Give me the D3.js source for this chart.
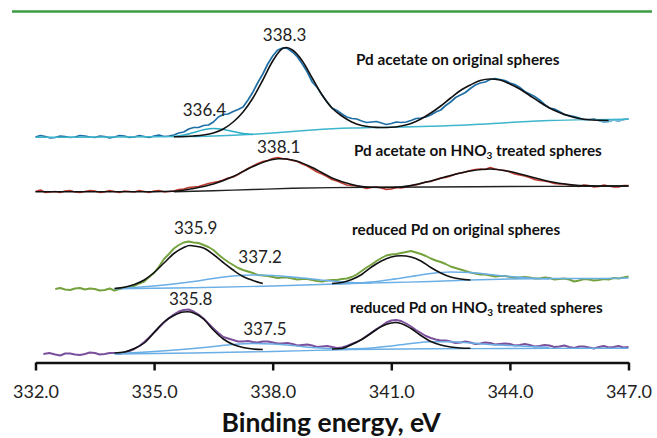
<!DOCTYPE html>
<html>
<head>
<meta charset="utf-8">
<script src="https://cdn.jsdelivr.net/npm/d3@7"></script>
<style>
  body { margin: 0; background: #fff; }
  text { font-family: Lato, "Open Sans", sans-serif; }
</style>
</head>
<body>
<script>
// chart size
const width = 657;
const height = 438;

// binding energy ticks (eV)
const energyTicks = [332, 335, 338, 341, 344, 347];

// series titles, top to bottom ("|" marks the subscript)
const seriesTitles = [
  "Pd acetate on original spheres",
  "Pd acetate on HNO|3| treated spheres",
  "reduced Pd on original spheres",
  "reduced Pd on HNO|3| treated spheres"
];

// [eV, intensity a.u.] -- spectra are stacked, values include offset
// 1: Pd acetate on original spheres
const raw1 = [[332,225],[332.125,226.5],[332.25,225.5],[332.375,224],[332.5,224.5],[332.625,226],[332.75,225.5],[332.875,224.5],[333,225],[333.125,226.5],[333.25,226],[333.375,225],[333.5,224.5],[333.625,226],[333.75,225.5],[333.875,224],[334,225],[334.125,226.5],[334.25,226],[334.375,224.5],[334.5,225],[334.625,226.5],[334.75,225.5],[334.875,224.5],[335,226],[335.125,227],[335.25,225.5],[335.375,226],[335.5,227],[335.625,229],[335.75,230],[335.875,233],[336,234.5],[336.125,234.5],[336.25,236.5],[336.375,237],[336.5,240],[336.625,245],[336.75,247.5],[336.875,248],[337,250.5],[337.125,252.5],[337.25,255],[337.375,262],[337.5,270],[337.625,279.5],[337.75,288],[337.875,298],[338,306],[338.125,312],[338.25,314],[338.375,313.5],[338.5,310],[338.625,305],[338.75,298],[338.875,290],[339,280],[339.125,274.5],[339.25,267],[339.375,260],[339.5,254],[339.625,251.5],[339.75,248],[339.875,245],[340,243.5],[340.125,243],[340.25,241],[340.375,239.5],[340.5,240],[340.625,240.5],[340.75,239],[340.875,237.5],[341,238.5],[341.125,240],[341.25,239.5],[341.375,240],[341.5,241.5],[341.625,243.5],[341.75,244],[341.875,245],[342,247],[342.125,250],[342.25,252],[342.375,256.5],[342.5,260],[342.625,264.5],[342.75,267],[342.875,269.5],[343,273.5],[343.125,277],[343.25,279],[343.375,280],[343.5,282.5],[343.625,283.5],[343.75,282.5],[343.875,281.5],[344,279],[344.125,277.5],[344.25,274.5],[344.375,270.5],[344.5,268],[344.625,265.5],[344.75,262],[344.875,257.5],[345,254],[345.125,253],[345.25,250.5],[345.375,247.5],[345.5,246.5],[345.625,245.5],[345.75,244],[345.875,242.5],[346,242.5],[346.125,243],[346.25,241.5],[346.375,240],[346.5,240.5],[346.625,242],[346.75,241],[346.875,242.5],[347,243]];
const fit1 = [[335.5,225.2],[336,226],[336.25,227],[336.5,229],[336.75,233],[337,240],[337.25,250],[337.5,264],[337.75,282],[338,301],[338.25,313.5],[338.35,314.5],[338.5,312],[338.75,301],[339,284],[339.25,267],[339.5,254],[339.75,246],[340,240],[340.25,236.5],[340.5,235],[340.75,234.5],[341,234.7],[341.25,236],[341.5,238.5],[341.75,243],[342,249],[342.25,256],[342.5,264],[342.75,271.5],[343,277],[343.25,281.5],[343.5,283],[343.75,282],[344,278],[344.25,273],[344.5,266.5],[344.75,260],[345,254],[345.25,249.5],[345.5,246],[345.75,243.5],[346,242.2],[346.25,241.7],[346.5,241.5]];
const shoulder1 = [[335.5,225.5],[335.75,227],[336,229.5],[336.25,232.2],[336.5,233.5],[336.75,232.5],[337,230.5],[337.25,228.5],[337.5,227.5]];
const bg1 = [[332,224.7],[333,224.8],[334,225],[335,225.2],[336,225.5],[336.5,226],[337,226.7],[337.5,227.7],[338,229],[338.5,230.5],[339,232],[339.5,233.2],[340,234],[340.5,234.4],[341,234.8],[342,235.7],[343,237.2],[344,239.5],[345,241.5],[346,242.4],[347,242.7]];

// 2: Pd acetate on HNO3 treated spheres
const raw2 = [[332,170.5],[332.125,172],[332.25,169.5],[332.375,170],[332.5,170.5],[332.625,169.5],[332.75,171],[332.875,171.5],[333,170],[333.125,169.5],[333.25,170.5],[333.375,171.5],[333.5,171],[333.625,169.5],[333.75,170.2],[333.875,171.5],[334,170.5],[334.125,169.5],[334.25,171],[334.375,170.5],[334.5,170],[334.625,171.5],[334.75,170.5],[334.875,169.5],[335,171],[335.125,171.5],[335.25,170.2],[335.375,170.5],[335.5,171],[335.625,172.5],[335.75,173],[335.875,174.5],[336,175],[336.125,175.5],[336.25,177],[336.375,178.5],[336.5,179.5],[336.625,180.5],[336.75,182],[336.875,184],[337,185],[337.125,187.5],[337.25,190.5],[337.375,193.5],[337.5,196],[337.625,198.5],[337.75,200.5],[337.875,201.5],[338,203.5],[338.125,204.5],[338.25,203.5],[338.375,203],[338.5,201.5],[338.625,200.5],[338.75,198],[338.875,196],[339,193],[339.125,190],[339.25,188],[339.375,185.5],[339.5,182.5],[339.625,181],[339.75,179],[339.875,177],[340,176.5],[340.125,176],[340.25,175],[340.375,173.5],[340.5,174.5],[340.625,175],[340.75,174],[340.875,172.5],[341,173],[341.125,174.5],[341.25,174],[341.375,175],[341.5,176.5],[341.625,177],[341.75,178.5],[341.875,180],[342,180.5],[342.125,182.5],[342.25,184],[342.375,184.5],[342.5,186],[342.625,188],[342.75,189],[342.875,190],[343,191.5],[343.125,192.5],[343.25,193],[343.375,192.5],[343.5,194.5],[343.625,193],[343.75,192],[343.875,191.5],[344,190],[344.125,188],[344.25,187],[344.375,186],[344.5,184.5],[344.625,182.5],[344.75,181.5],[344.875,181],[345,180],[345.125,178.5],[345.25,178],[345.375,178],[345.5,177],[345.625,176],[345.75,175.5],[345.875,177],[346,176.5],[346.125,175],[346.25,175.5],[346.375,177],[346.5,176],[346.625,175],[346.75,175],[346.875,176.5],[347,176.5]];
const fit2 = [[332,170.3],[335,170.3],[335.5,170.7],[336,173.5],[336.5,178],[337,185.5],[337.5,195.5],[338,202.5],[338.15,203.2],[338.5,202],[339,194.5],[339.5,184],[340,177.5],[340.5,174.7],[341,174.5],[341.5,176.5],[342,181],[342.5,186.5],[343,191],[343.5,193],[344,190.5],[344.5,185.5],[345,180.5],[345.5,177.5],[346,176.2],[346.5,176],[347,176]];
const bg2 = [[335.5,170.3],[336.5,171.3],[337.5,172.5],[338.5,173.7],[339.5,174.4],[340.5,174.7],[342,175],[344,175.5],[346,175.8],[347,176]];

// 3: reduced Pd on original spheres
const raw3 = [[332.5,73],[332.625,74],[332.75,72.5],[332.875,72],[333,73.5],[333.125,74],[333.25,72.5],[333.375,73.5],[333.5,73],[333.625,71.5],[333.75,72],[333.875,73.5],[334,71.5],[334.125,73],[334.25,74.5],[334.375,74.5],[334.5,76],[334.625,78.5],[334.75,80.5],[334.875,85],[335,89],[335.125,95.5],[335.25,103],[335.375,108],[335.5,113.5],[335.625,117],[335.75,119.5],[335.875,120.5],[336,119.5],[336.125,119],[336.25,117],[336.375,115],[336.5,112],[336.625,107.5],[336.75,103.5],[336.875,100],[337,97],[337.125,94],[337.25,92],[337.375,90.5],[337.5,89],[337.625,87],[337.75,86.5],[337.875,86],[338,85],[338.125,84],[338.25,84.5],[338.375,84.5],[338.5,83.5],[338.625,82.5],[338.75,83],[338.875,83],[339,82],[339.125,81],[339.25,80.5],[339.375,81.5],[339.5,82],[339.625,82],[339.75,83],[339.875,83.5],[340,85],[340.125,87.5],[340.25,91],[340.375,94.5],[340.5,97.5],[340.625,101],[340.75,104],[340.875,106.5],[341,107.5],[341.125,108],[341.25,109],[341.375,110],[341.5,111],[341.625,109.5],[341.75,108],[341.875,106],[342,103.5],[342.125,101.5],[342.25,100],[342.375,98],[342.5,95.5],[342.625,94],[342.75,92.5],[342.875,91],[343,89.5],[343.125,88.5],[343.25,87.5],[343.375,87.5],[343.5,86.5],[343.625,85.5],[343.75,86],[343.875,86],[344,85],[344.125,84],[344.25,84.5],[344.375,85],[344.5,84.5],[344.625,83.5],[344.75,83.5],[344.875,84.5],[345,84],[345.125,82.5],[345.25,83],[345.375,83.5],[345.5,82.5],[345.625,80.5],[345.75,81.5],[345.875,83],[346,82.5],[346.125,81.5],[346.25,82],[346.375,83],[346.5,82.5],[346.625,84],[346.75,83.5],[346.875,84.5],[347,85.5]];
const peak3a = [[334,73.5],[334.25,74.7],[334.5,77.5],[334.75,82],[335,89.5],[335.25,99],[335.5,108.5],[335.75,114.5],[335.9,116.5],[336,116],[336.25,114],[336.5,107.5],[336.75,99.5],[337,92],[337.25,85.5],[337.5,81.5],[337.75,78.5]];
const comp3a = [[334,73.5],[334.5,74.5],[335,76],[335.5,78],[336,80.5],[336.5,83.5],[337,86],[337.5,87],[338,86.5],[338.5,85],[339,83],[339.5,81],[340,79.5],[340.5,79]];
const peak3b = [[339.5,78.5],[339.75,79.5],[340,82.5],[340.25,87.5],[340.5,95],[340.75,101],[341,105],[341.25,106.2],[341.5,105],[341.75,101],[342,94.5],[342.25,89],[342.5,85],[342.75,83],[343,82]];
const comp3b = [[339.5,78.2],[340,78.7],[340.5,80],[341,82.5],[341.5,85.5],[342,88.5],[342.5,90],[343,89.5],[343.5,87.5],[344,85.5],[344.5,84],[345,83]];
const bg3 = [[334,73.3],[336,74.2],[338,76],[340,78.5],[341,79.5],[342,80.5],[343,82],[344,83],[345,83.5],[346,83.5],[347,84]];

// 4: reduced Pd on HNO3 treated spheres
const raw4 = [[332.2,8],[332.35,9],[332.5,7.5],[332.625,6.5],[332.75,8.5],[332.875,8.5],[333,7.5],[333.125,7],[333.25,8],[333.375,9.5],[333.5,9],[333.625,7.5],[333.75,8],[333.875,9],[334,9],[334.125,8],[334.25,9.5],[334.375,11],[334.5,13],[334.625,16],[334.75,20],[334.875,24.5],[335,29.5],[335.125,34.5],[335.25,39.5],[335.375,44],[335.5,47.5],[335.625,50.5],[335.75,52],[335.875,52.5],[336,50.5],[336.125,47.5],[336.25,43.5],[336.375,38.5],[336.5,33.5],[336.625,29],[336.75,25],[336.875,23.5],[337,22],[337.125,20.5],[337.25,20.5],[337.375,21],[337.5,20],[337.625,19.5],[337.75,20.5],[337.875,20.5],[338,19.5],[338.125,18.5],[338.25,18.5],[338.375,19],[338.5,18],[338.625,16.5],[338.75,17],[338.875,17.5],[339,16.5],[339.125,15],[339.25,15.5],[339.375,16],[339.5,15],[339.625,14],[339.75,14.5],[339.875,16],[340,18],[340.125,20],[340.25,22.5],[340.375,26],[340.5,29.5],[340.625,33],[340.75,36],[340.875,39.5],[341,41.5],[341.125,42],[341.25,41],[341.375,38.5],[341.5,35.5],[341.625,32],[341.75,29],[341.875,26],[342,24],[342.125,22.5],[342.25,21.5],[342.375,21.5],[342.5,20.5],[342.625,19],[342.75,19.5],[342.875,20.5],[343,19.5],[343.125,18],[343.25,18.5],[343.375,19.5],[343.5,19],[343.625,17.5],[343.75,18],[343.875,18.5],[344,18],[344.125,16.5],[344.25,17],[344.375,18],[344.5,17],[344.625,15.5],[344.75,16],[344.875,17],[345,16.5],[345.125,15],[345.25,15.5],[345.375,16.5],[345.5,15],[345.625,14],[345.75,15.5],[345.875,15.5],[346,14.5],[346.125,13.5],[346.25,15],[346.375,16],[346.5,14.5],[346.625,15],[346.75,16],[346.875,14.5],[347,15]];
const peak4a = [[334,9],[334.25,10],[334.5,13.5],[334.75,19],[335,29.5],[335.25,40],[335.5,46.5],[335.75,50],[335.85,50.2],[336,49],[336.25,43],[336.5,32],[336.75,23],[337,17.5],[337.25,14.5],[337.5,13],[337.75,12.5]];
const comp4a = [[334,8.5],[335,10.5],[336,13.5],[336.5,15.5],[337,17.5],[337.5,18.5],[338,18],[338.5,16.5],[339,14.5],[339.5,13.2]];
const peak4b = [[339.5,13],[339.75,13.5],[340,17.5],[340.25,22.5],[340.5,29],[340.75,35.5],[341,39],[341.1,39.5],[341.25,38.5],[341.5,33.5],[341.75,26.5],[342,20.5],[342.25,17],[342.5,15],[342.75,14],[343,13.7]];
const comp4b = [[339.5,12.7],[340.5,14],[341,16],[341.5,18.5],[342,20.2],[342.5,20.2],[343,19],[343.5,17.5],[344,16.5],[344.5,15.5],[345,14.5]];
const bg4 = [[334,8],[336,9],[338,10.5],[340,12.5],[342,13.2],[344,13.5],[346,13.7],[347,13.8]];

// peak position labels (eV)
const peakLabels = ["338.3", "336.4", "338.1", "335.9", "337.2", "335.8", "337.5"];

// ---------------- drawing ----------------
const svg = d3.select("body")
  .append("svg")
  .attr("width", width)
  .attr("height", height);

const x = d3.scaleLinear().domain([332, 347]).range([35.5, 628.5]);
const y = d3.scaleLinear().domain([0, 320]).range([362, 42]);

// green rule at the top
svg.append("line")
  .attr("x1", 12).attr("x2", 652)
  .attr("y1", 11.5).attr("y2", 11.5)
  .attr("stroke", "#3c9b45")
  .attr("stroke-width", 2.5);

const rawLine = d3.line().x(d => x(d[0])).y(d => y(d[1]));
const fitLine = d3.line().x(d => x(d[0])).y(d => y(d[1])).curve(d3.curveMonotoneX);

// each layer: data, line generator, colour, width (drawn in order)
const layers = [
  [raw1, rawLine, "#1d6ea5", 1.7],
  [raw1.filter(d => d[0] >= 346.25), rawLine, "#72bedd", 1.7],
  [bg1, fitLine, "#3db5cc", 1.4],
  [shoulder1, fitLine, "#2aaec6", 1.5],
  [fit1, fitLine, "#111", 1.6],

  [raw2, rawLine, "#c03a30", 1.7],
  [bg2, fitLine, "#222", 1.4],
  [fit2, fitLine, "#111", 1.6],

  [raw3, rawLine, "#74a23c", 1.9],
  [bg3, fitLine, "#6aaee6", 1.4],
  [comp3a, fitLine, "#6aaee6", 1.5],
  [comp3b, fitLine, "#6aaee6", 1.5],
  [peak3a, fitLine, "#111", 1.6],
  [peak3b, fitLine, "#111", 1.6],

  [raw4, rawLine, "#7a4f9c", 1.9],
  [bg4, fitLine, "#6aaee6", 1.4],
  [comp4a, fitLine, "#6aaee6", 1.5],
  [comp4b, fitLine, "#6aaee6", 1.5],
  [peak4a, fitLine, "#111", 1.6],
  [peak4b, fitLine, "#111", 1.6]
];

svg.append("g")
  .selectAll("path")
  .data(layers)
  .enter()
  .append("path")
  .attr("d", d => d[1](d[0]))
  .attr("fill", "none")
  .attr("stroke", d => d[2])
  .attr("stroke-width", d => d[3])
  .attr("stroke-linejoin", "round");

// peak labels sit above the series they mark
const labelSeries = [raw1, shoulder1, fit2, raw3, comp3a, raw4, comp4a];
const labelNudge = [[0, -7], [-5, -13], [2, -6], [6, -8], [19, -12], [5, -5], [12, -9]];

svg.append("g")
  .selectAll("text")
  .data(peakLabels)
  .enter()
  .append("text")
  .attr("x", (d, i) => x(+d) + labelNudge[i][0])
  .attr("y", (d, i) => y(d3.max(labelSeries[i], p => p[1])) + labelNudge[i][1])
  .attr("text-anchor", "middle")
  .attr("font-size", 17)
  .attr("fill", "#222")
  .text(d => d);

// series titles
const titlePos = [[356, 65], [354, 155.7], [352, 235], [350, 312.7]];
seriesTitles.forEach((t, i) => {
  const parts = t.split("|");
  const txt = svg.append("text")
    .attr("x", titlePos[i][0])
    .attr("y", titlePos[i][1])
    .attr("font-size", 15.3)
    .attr("font-weight", "bold")
    .attr("fill", "#111");
  txt.append("tspan").text(parts[0]);
  if (parts.length > 1) {
    txt.append("tspan").attr("font-size", 10).attr("dy", 3).text(parts[1]);
    txt.append("tspan").attr("dy", -3).text(parts[2]);
  }
});

// x axis
const axis = svg.append("g")
  .attr("transform", "translate(0,362.5)")
  .call(d3.axisBottom(x)
    .tickValues(energyTicks)
    .tickFormat(d3.format(".1f"))
    .tickSize(8)
    .tickSizeOuter(0)
    .tickPadding(15));

axis.select(".domain").attr("stroke", "#111").attr("stroke-width", 2.5);
axis.selectAll(".tick line").attr("stroke", "#111").attr("stroke-width", 2.5);
axis.selectAll(".tick text")
  .attr("font-size", 18)
  .attr("font-family", "Lato, 'Open Sans', sans-serif")
  .attr("fill", "#222");

svg.append("text")
  .attr("x", 331)
  .attr("y", 432)
  .attr("text-anchor", "middle")
  .attr("font-size", 26.5)
  .attr("font-weight", "bold")
  .attr("fill", "#111")
  .text("Binding energy, eV");
</script>
</body>
</html>
